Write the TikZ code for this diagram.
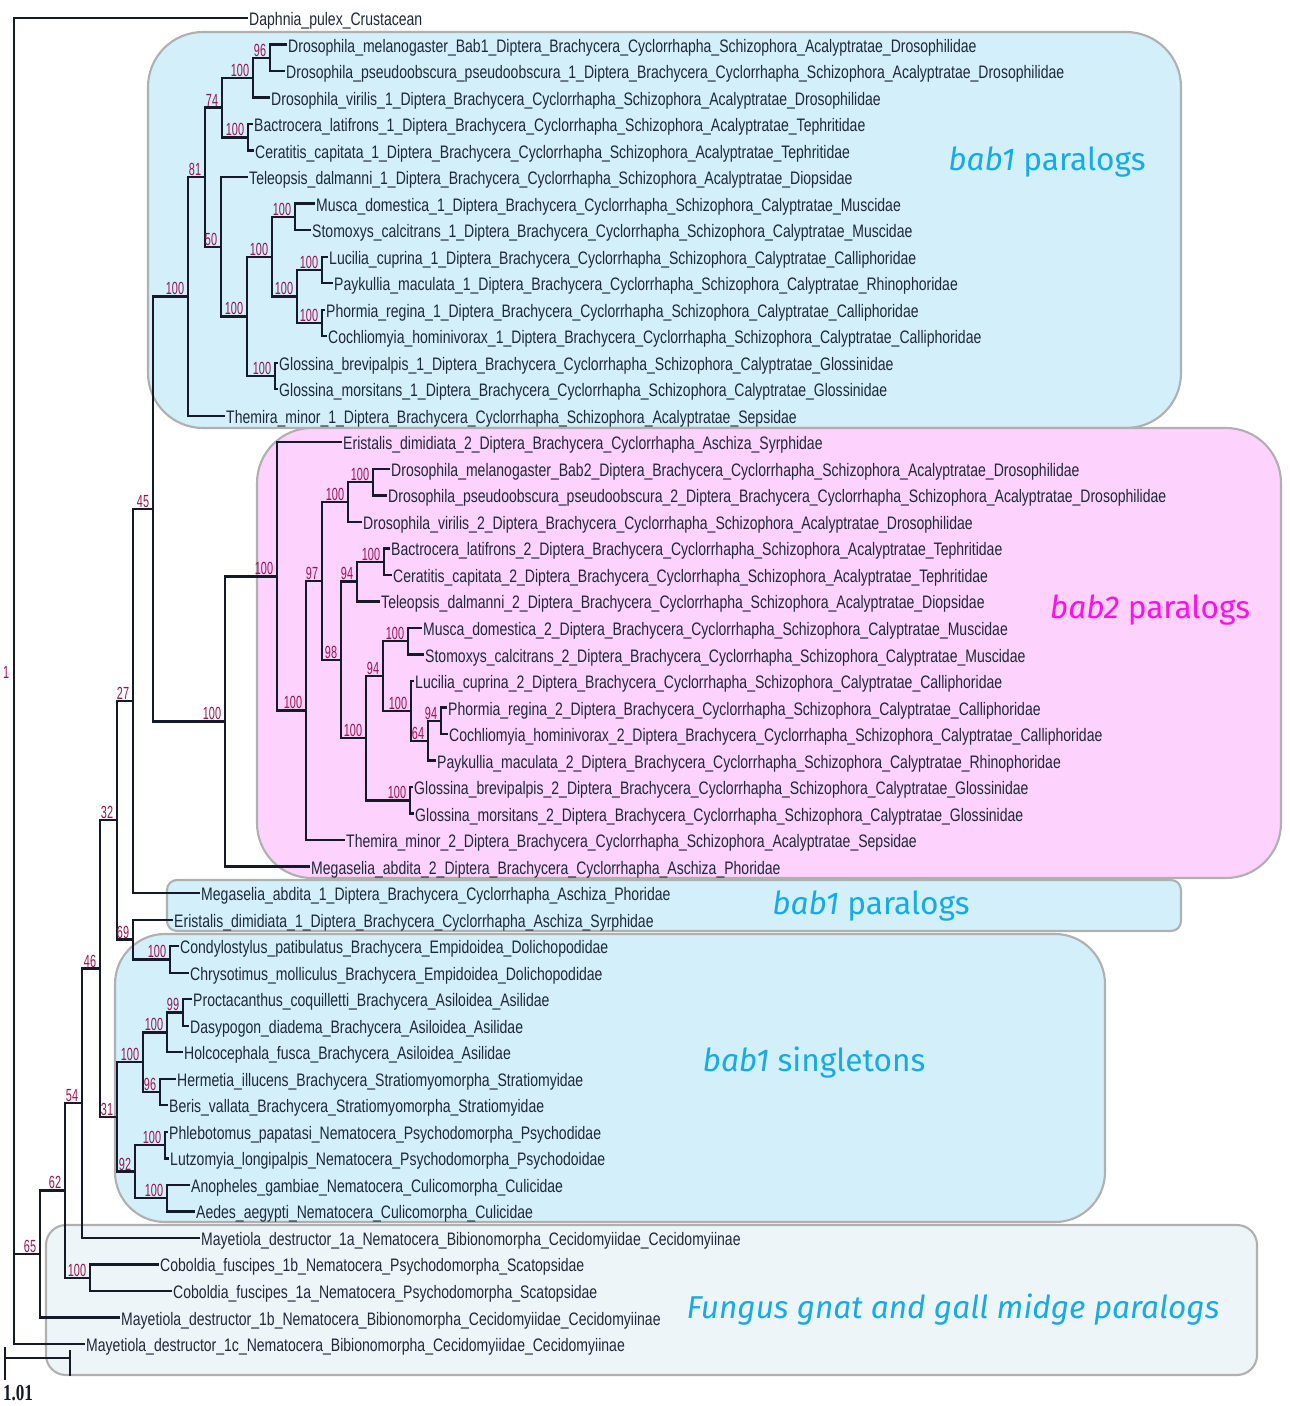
\documentclass[tikz,border=0pt]{standalone}
\usepackage{fontspec}
\setmainfont{Liberation Sans}
\newfontfamily\leaffont[FakeStretch=0.775]{Liberation Sans}
\newfontfamily\bootfont[FakeStretch=0.62]{Liberation Sans}
\newfontfamily\grpfont{Fira Sans}
\newfontfamily\barfont[FakeStretch=0.75]{Liberation Serif}
\definecolor{branchcol}{HTML}{141A28}
\definecolor{leafcol}{HTML}{1E2838}
\definecolor{bootcol}{HTML}{9A1450}
\definecolor{bluefill}{HTML}{D2EFFA}
\definecolor{pinkfill}{HTML}{FDD2FC}
\definecolor{palefill}{HTML}{EEF5F9}
\definecolor{boxline}{HTML}{B0B0B0}
\definecolor{cyanlab}{HTML}{16ABE8}
\definecolor{magentalab}{HTML}{FF10E6}
% repeated parts of the taxon names
\newcommand{\cyc}{\_Diptera\_Brachycera\_Cyclorrhapha}
\newcommand{\acal}{\cyc\_Schizophora\_Acalyptratae}
\newcommand{\calyp}{\cyc\_Schizophora\_Calyptratae}
\begin{document}
\begin{tikzpicture}[x=0.02cm, y=-0.02cm,
  branch/.style={draw=branchcol, line width=1.3pt},
  leaf/.style={anchor=west, inner sep=0.5pt, text height=0.86em, text depth=0pt,
    text=leafcol, font=\leaffont\fontsize{10.3}{11}\selectfont},
  boot/.style={anchor=south east, inner sep=0.6pt, xshift=-0.05cm,
    text=bootcol, font=\bootfont\fontsize{10}{10}\selectfont},
  grpbox/.style={draw=boxline, line width=1.2pt},
  grplabel/.style={font=\grpfont\fontsize{18}{20}\selectfont}]
\useasboundingbox (0,0) rectangle (1290,1406);
% group boxes
\draw[grpbox, fill=bluefill, rounded corners=1.1cm] (148,32) rectangle (1181,428);
\draw[grpbox, fill=pinkfill, rounded corners=1.1cm] (257,428) rectangle (1281,878);
\draw[grpbox, fill=bluefill, rounded corners=0.2cm] (167,880) rectangle (1181,931);
\draw[grpbox, fill=bluefill, rounded corners=1cm] (115,934) rectangle (1105,1222);
\draw[grpbox, fill=palefill, rounded corners=0.4cm] (46,1225) rectangle (1257,1375);
\node[grplabel, text=cyanlab] (g1) at (1047,162) {{\itshape bab1} paralogs};
\node[grplabel, text=magentalab] (g2) at (1150,610) {{\itshape bab2} paralogs};
\node[grplabel, text=cyanlab] (g3) at (871,906) {{\itshape bab1} paralogs};
\node[grplabel, text=cyanlab] (g4) at (814,1063) {{\itshape bab1} singletons};
\node[grplabel, text=cyanlab] (g5) at (953,1310) {\itshape Fungus gnat and gall midge paralogs};
% taxa
\node[leaf] (l1) at (248,18) {Daphnia\_pulex\_Crustacean};
\node[leaf] (l2) at (287,44.5) {Drosophila\_melanogaster\_Bab1\acal\_Drosophilidae};
\node[leaf] (l3) at (285,71) {Drosophila\_pseudoobscura\_pseudoobscura\_1\acal\_Drosophilidae};
\node[leaf] (l4) at (270,97.6) {Drosophila\_virilis\_1\acal\_Drosophilidae};
\node[leaf] (l5) at (253,124.1) {Bactrocera\_latifrons\_1\acal\_Tephritidae};
\node[leaf] (l6) at (254,150.6) {Ceratitis\_capitata\_1\acal\_Tephritidae};
\node[leaf] (l7) at (248,177.1) {Teleopsis\_dalmanni\_1\acal\_Diopsidae};
\node[leaf] (l8) at (315,203.6) {Musca\_domestica\_1\calyp\_Muscidae};
\node[leaf] (l9) at (311,230.2) {Stomoxys\_calcitrans\_1\calyp\_Muscidae};
\node[leaf] (l10) at (328,256.7) {Lucilia\_cuprina\_1\calyp\_Calliphoridae};
\node[leaf] (l11) at (333,283.2) {Paykullia\_maculata\_1\calyp\_Rhinophoridae};
\node[leaf] (l12) at (325,309.7) {Phormia\_regina\_1\calyp\_Calliphoridae};
\node[leaf] (l13) at (327,336.2) {Cochliomyia\_hominivorax\_1\calyp\_Calliphoridae};
\node[leaf] (l14) at (278,362.8) {Glossina\_brevipalpis\_1\calyp\_Glossinidae};
\node[leaf] (l15) at (278,389.3) {Glossina\_morsitans\_1\calyp\_Glossinidae};
\node[leaf] (l16) at (225,415.8) {Themira\_minor\_1\acal\_Sepsidae};
\node[leaf] (l17) at (342,442.3) {Eristalis\_dimidiata\_2\cyc\_Aschiza\_Syrphidae};
\node[leaf] (l18) at (390,468.8) {Drosophila\_melanogaster\_Bab2\acal\_Drosophilidae};
\node[leaf] (l19) at (387,495.4) {Drosophila\_pseudoobscura\_pseudoobscura\_2\acal\_Drosophilidae};
\node[leaf] (l20) at (362,521.9) {Drosophila\_virilis\_2\acal\_Drosophilidae};
\node[leaf] (l21) at (390,548.4) {Bactrocera\_latifrons\_2\acal\_Tephritidae};
\node[leaf] (l22) at (392,574.9) {Ceratitis\_capitata\_2\acal\_Tephritidae};
\node[leaf] (l23) at (380,601.4) {Teleopsis\_dalmanni\_2\acal\_Diopsidae};
\node[leaf] (l24) at (422,628) {Musca\_domestica\_2\calyp\_Muscidae};
\node[leaf] (l25) at (424,654.5) {Stomoxys\_calcitrans\_2\calyp\_Muscidae};
\node[leaf] (l26) at (414,681) {Lucilia\_cuprina\_2\calyp\_Calliphoridae};
\node[leaf] (l27) at (447,707.5) {Phormia\_regina\_2\calyp\_Calliphoridae};
\node[leaf] (l28) at (448,734) {Cochliomyia\_hominivorax\_2\calyp\_Calliphoridae};
\node[leaf] (l29) at (436,760.6) {Paykullia\_maculata\_2\calyp\_Rhinophoridae};
\node[leaf] (l30) at (413,787.1) {Glossina\_brevipalpis\_2\calyp\_Glossinidae};
\node[leaf] (l31) at (414,813.6) {Glossina\_morsitans\_2\calyp\_Glossinidae};
\node[leaf] (l32) at (345,840.1) {Themira\_minor\_2\acal\_Sepsidae};
\node[leaf] (l33) at (310,866.6) {Megaselia\_abdita\_2\cyc\_Aschiza\_Phoridae};
\node[leaf] (l34) at (200,893.2) {Megaselia\_abdita\_1\cyc\_Aschiza\_Phoridae};
\node[leaf] (l35) at (173,919.7) {Eristalis\_dimidiata\_1\cyc\_Aschiza\_Syrphidae};
\node[leaf] (l36) at (179,946.2) {Condylostylus\_patibulatus\_Brachycera\_Empidoidea\_Dolichopodidae};
\node[leaf] (l37) at (189,972.7) {Chrysotimus\_molliculus\_Brachycera\_Empidoidea\_Dolichopodidae};
\node[leaf] (l38) at (192,999.2) {Proctacanthus\_coquilletti\_Brachycera\_Asiloidea\_Asilidae};
\node[leaf] (l39) at (189,1025.8) {Dasypogon\_diadema\_Brachycera\_Asiloidea\_Asilidae};
\node[leaf] (l40) at (183,1052.3) {Holcocephala\_fusca\_Brachycera\_Asiloidea\_Asilidae};
\node[leaf] (l41) at (176,1078.8) {Hermetia\_illucens\_Brachycera\_Stratiomyomorpha\_Stratiomyidae};
\node[leaf] (l42) at (168,1105.3) {Beris\_vallata\_Brachycera\_Stratiomyomorpha\_Stratiomyidae};
\node[leaf] (l43) at (168,1131.8) {Phlebotomus\_papatasi\_Nematocera\_Psychodomorpha\_Psychodidae};
\node[leaf] (l44) at (169,1158.4) {Lutzomyia\_longipalpis\_Nematocera\_Psychodomorpha\_Psychodoidae};
\node[leaf] (l45) at (190,1184.9) {Anopheles\_gambiae\_Nematocera\_Culicomorpha\_Culicidae};
\node[leaf] (l46) at (195,1211.4) {Aedes\_aegypti\_Nematocera\_Culicomorpha\_Culicidae};
\node[leaf] (l47) at (200,1237.9) {Mayetiola\_destructor\_1a\_Nematocera\_Bibionomorpha\_Cecidomyiidae\_Cecidomyiinae};
\node[leaf] (l48) at (159,1264.4) {Coboldia\_fuscipes\_1b\_Nematocera\_Psychodomorpha\_Scatopsidae};
\node[leaf] (l49) at (172,1291) {Coboldia\_fuscipes\_1a\_Nematocera\_Psychodomorpha\_Scatopsidae};
\node[leaf] (l50) at (120,1317.5) {Mayetiola\_destructor\_1b\_Nematocera\_Bibionomorpha\_Cecidomyiidae\_Cecidomyiinae};
\node[leaf] (l51) at (85,1344) {Mayetiola\_destructor\_1c\_Nematocera\_Bibionomorpha\_Cecidomyiidae\_Cecidomyiinae};
% inner nodes, bab1 paralogs
\coordinate (nA96) at (270,57.8);
\coordinate (nA100a) at (253,77.7);
\coordinate (nA100b) at (248,137.4);
\coordinate (nA74) at (222,107.5);
\coordinate (nA100c) at (295,216.9);
\coordinate (nA100d) at (322,270);
\coordinate (nA100e) at (322,323);
\coordinate (nA100f) at (297,296.5);
\coordinate (nA100g) at (272,256.7);
\coordinate (nA100h) at (275,376);
\coordinate (nA100i) at (247,316.4);
\coordinate (nA50) at (221,246.7);
\coordinate (nA81) at (205,177.1);
\coordinate (nA100j) at (188,296.5);
% inner nodes, bab2 paralogs
\coordinate (nB100a) at (373,482.1);
\coordinate (nB100b) at (348,502);
\coordinate (nB100c) at (384,561.7);
\coordinate (nB94a) at (357,581.5);
\coordinate (nB100d) at (408,641.2);
\coordinate (nB94b) at (441,720.8);
\coordinate (nB64) at (428,740.7);
\coordinate (nB100e) at (411,710.8);
\coordinate (nB94c) at (383,676);
\coordinate (nB100f) at (410,800.4);
\coordinate (nB100g) at (366,738.2);
\coordinate (nB98) at (341,659.9);
\coordinate (nB97) at (322,580.9);
\coordinate (nB100h) at (306,710.5);
\coordinate (nB100i) at (277,576.4);
\coordinate (nB100j) at (225,721.5);
% inner nodes, lower part
\coordinate (n45) at (153,509);
\coordinate (n27) at (133,701.1);
\coordinate (nC100a) at (170,959.5);
\coordinate (n69) at (133,939.6);
\coordinate (n32) at (117,820.3);
\coordinate (nC99) at (183,1012.5);
\coordinate (nC100b) at (167,1032.4);
\coordinate (nC96) at (160,1092.1);
\coordinate (nC100c) at (143,1062.2);
\coordinate (nC100d) at (165,1145.1);
\coordinate (nC100e) at (167,1198.2);
\coordinate (nC92) at (135,1171.6);
\coordinate (n31) at (117,1116.9);
\coordinate (n46) at (100,968.6);
\coordinate (n54) at (82,1103.3);
\coordinate (nD100) at (90,1277.7);
\coordinate (n62) at (65,1190.5);
\coordinate (n65) at (40,1254);
\coordinate (root) at (14,681);
% branches to taxa
\foreach \p/\c in {root/l1, nA96/l2, nA96/l3, nA100a/l4, nA100b/l5, nA100b/l6, nA50/l7,
  nA100c/l8, nA100c/l9, nA100d/l10, nA100d/l11, nA100e/l12, nA100e/l13, nA100h/l14,
  nA100h/l15, nA100j/l16, nB100i/l17, nB100a/l18, nB100a/l19, nB100b/l20, nB100c/l21,
  nB100c/l22, nB94a/l23, nB100d/l24, nB100d/l25, nB100e/l26, nB94b/l27, nB94b/l28,
  nB64/l29, nB100f/l30, nB100f/l31, nB100h/l32, nB100j/l33, n27/l34, n69/l35,
  nC100a/l36, nC100a/l37, nC99/l38, nC99/l39, nC100b/l40, nC96/l41, nC96/l42,
  nC100d/l43, nC100d/l44, nC100e/l45, nC100e/l46, n54/l47, nD100/l48, nD100/l49,
  n65/l50, root/l51}
  \draw[branch] (\p) |- (\c.west);
% branches between inner nodes
\foreach \p/\c in {nA100a/nA96, nA74/nA100a, nA74/nA100b, nA100f/nA100d, nA100f/nA100e,
  nA100g/nA100c, nA100g/nA100f, nA100i/nA100g, nA100i/nA100h, nA50/nA100i, nA81/nA74,
  nA81/nA50, nA100j/nA81, nB100b/nB100a, nB94a/nB100c, nB64/nB94b, nB100e/nB64,
  nB94c/nB100d, nB94c/nB100e, nB100g/nB94c, nB100g/nB100f, nB98/nB94a, nB98/nB100g,
  nB97/nB100b, nB97/nB98, nB100h/nB97, nB100i/nB100h, nB100j/nB100i, n45/nA100j,
  n45/nB100j, n27/n45, n69/nC100a, n32/n27, n32/n69, nC100b/nC99, nC100c/nC100b,
  nC100c/nC96, nC92/nC100d, nC92/nC100e, n31/nC100c, n31/nC92, n46/n32, n46/n31,
  n54/n46, n62/n54, n62/nD100, n65/n62, root/n65}
  \draw[branch] (\p) |- (\c);
% bootstrap values
\foreach \n/\v in {nA96/96, nA100a/100, nA100b/100, nA74/74, nA100c/100, nA100d/100,
  nA100e/100, nA100f/100, nA100g/100, nA100h/100, nA100i/100, nA50/50, nA81/81,
  nA100j/100, nB100a/100, nB100b/100, nB100c/100, nB94a/94, nB100d/100, nB94b/94,
  nB64/64, nB100e/100, nB94c/94, nB100f/100, nB100g/100, nB98/98, nB97/97,
  nB100h/100, nB100i/100, nB100j/100, n45/45, n27/27, nC100a/100, n69/69, n32/32,
  nC99/99, nC100b/100, nC96/96, nC100c/100, nC100d/100, nC100e/100, nC92/92,
  n31/31, n46/46, n54/54, nD100/100, n62/62, n65/65}
  \node[boot] (\n-bs) at (\n) {\v};
\node[boot, anchor=east, xshift=0] (root-bs) at (13,672) {1};
% scale bar
\coordinate (sbL) at (5,1358);
\coordinate (sbR) at (70,1358);
\draw[branch, line width=1pt] (sbL) -- (sbR);
\draw[branch, line width=1pt] ([yshift=0.22cm]sbL) -- ([yshift=-0.44cm]sbL);
\draw[branch, line width=1pt] ([yshift=0.16cm]sbR) -- ([yshift=-0.36cm]sbR);
\node[font=\barfont\bfseries\fontsize{13}{13}\selectfont, text=branchcol] (sbtext) at (18,1393) {1.01};
\end{tikzpicture}
\end{document}
